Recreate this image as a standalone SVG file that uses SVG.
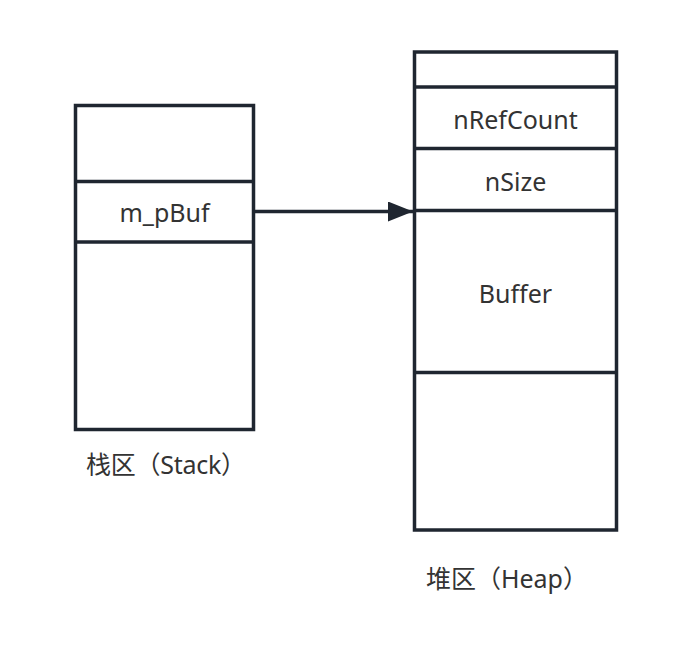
<svg xmlns="http://www.w3.org/2000/svg" width="689" height="666" viewBox="0 0 689 666">
<style>
.box{fill:#fff;stroke:#1f2630;stroke-width:3.5}
.ln{stroke:#1f2630;stroke-width:3.5}
.t{font-family:"Noto Sans","Noto Sans CJK SC",sans-serif;font-size:25px;fill:#333;text-anchor:middle}
.lb{font-family:"Noto Sans","Noto Sans CJK SC",sans-serif;font-size:25px;fill:#333}
</style>
<defs>
<marker id="ah" markerWidth="26" markerHeight="20" refX="25" refY="10" orient="auto" markerUnits="userSpaceOnUse">
<path d="M0,0 L25,10 L0,20 Z" fill="#1f2630"/>
</marker>
</defs>
<rect width="689" height="666" fill="#fff"/>
<g id="stack">
<rect class="box" x="75.5" y="105.5" width="178" height="324"/>
<line class="ln" x1="75.5" y1="181.5" x2="253.5" y2="181.5"/>
<line class="ln" x1="75.5" y1="242" x2="253.5" y2="242"/>
<text class="t" x="164.5" y="222">m_pBuf</text>
<text class="lb" x="86" y="474" textLength="160">栈区（Stack）</text>
</g>
<g id="heap">
<rect class="box" x="414.5" y="52" width="202" height="478"/>
<line class="ln" x1="414.5" y1="87" x2="616.5" y2="87"/>
<line class="ln" x1="414.5" y1="148.5" x2="616.5" y2="148.5"/>
<line class="ln" x1="414.5" y1="210.5" x2="616.5" y2="210.5"/>
<line class="ln" x1="414.5" y1="372.5" x2="616.5" y2="372.5"/>
<text class="t" x="515.5" y="129">nRefCount</text>
<text class="t" x="515.5" y="191">nSize</text>
<text class="t" x="515.5" y="303">Buffer</text>
<text class="lb" x="426" y="588" textLength="162">堆区（Heap）</text>
</g>
<g id="connectors">
<line class="ln" x1="255" y1="211.5" x2="413" y2="211.5" marker-end="url(#ah)"/>
</g>
</svg>
